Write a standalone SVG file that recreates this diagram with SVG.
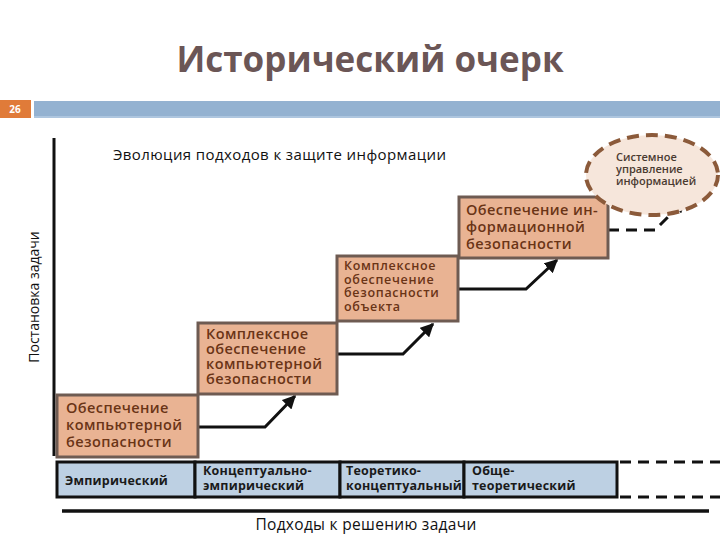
<svg xmlns="http://www.w3.org/2000/svg" width="720" height="540" viewBox="0 0 720 540">
<style>
.box{fill:#e9b393;stroke:#6e5b52;stroke-width:3}
.bt{font-family:"Open Sans","Noto Sans",sans-serif;font-size:14.5px;font-weight:600;fill:#6a3416;letter-spacing:0.4px}
.bs{font-size:12.5px;letter-spacing:0.7px}
.cell{fill:#bdd0e3;stroke:#111;stroke-width:3}
.ct{font-family:"Open Sans","Noto Sans",sans-serif;font-size:12.5px;font-weight:bold;fill:#1a1a1a;letter-spacing:0.2px}
.ln{stroke:#111;stroke-width:3;fill:none}
.dl{stroke:#111;stroke-width:3;fill:none;stroke-dasharray:11 7}
.lab{font-family:"Open Sans","Noto Sans",sans-serif;fill:#111}
.et{font-family:"Open Sans","Noto Sans",sans-serif;font-size:11px;font-weight:600;fill:#4a3a30}
</style>
<defs>
<marker id="ah" viewBox="0 0 10 10" refX="9" refY="5" markerWidth="4.5" markerHeight="4.5" orient="auto" markerUnits="strokeWidth">
<path d="M0,0 L10,5 L0,10 z" fill="#111"/>
</marker>
</defs>
<rect width="720" height="540" fill="#fff"/>
<text x="370" y="72" text-anchor="middle" font-family="'Open Sans','Noto Sans',sans-serif" font-size="35" font-weight="bold" fill="#6b5656">Исторический очерк</text>
<rect x="0" y="100" width="31" height="18" fill="#e07b39"/>
<text x="15" y="113" text-anchor="middle" font-family="'Open Sans',sans-serif" font-size="10" font-weight="bold" fill="#fff">26</text>
<rect x="34" y="101" width="686" height="17" fill="#94b2d1"/>
<line x1="34" y1="117" x2="720" y2="117" stroke="#b7cde3" stroke-width="1.5"/>

<g id="axes">
<line x1="54" y1="138" x2="54" y2="456" stroke="#111" stroke-width="3"/>
<line x1="62" y1="511" x2="709" y2="511" stroke="#111" stroke-width="3.5"/>
<text class="lab" font-size="14" transform="translate(39,297) rotate(-90)" text-anchor="middle">Постановка задачи</text>
<text class="lab" x="366" y="530" font-size="15.5" text-anchor="middle" letter-spacing="0.3">Подходы к решению задачи</text>
<text class="lab" x="113" y="160" font-size="15" letter-spacing="0.4">Эволюция подходов к защите информации</text>
</g>

<g id="connectors">
<polyline class="ln" points="198,427 265,427 295,396" marker-end="url(#ah)"/>
<polyline class="ln" points="337,354 403,354 433,324" marker-end="url(#ah)"/>
<polyline class="ln" points="458,289 526,289 557,260" marker-end="url(#ah)"/>
<polyline class="dl" points="608,230 655,230 685,200" marker-end="url(#ah)"/>
</g>

<g id="n1">
<rect class="box" x="57" y="395" width="141" height="62"/>
<text class="bt" x="66" y="413">Обеспечение</text>
<text class="bt" x="66" y="430">компьютерной</text>
<text class="bt" x="66" y="447">безопасности</text>
</g>
<g id="n2">
<rect class="box" x="198" y="323" width="139" height="71"/>
<text class="bt" x="206" y="339">Комплексное</text>
<text class="bt" x="206" y="354">обеспечение</text>
<text class="bt" x="206" y="369">компьютерной</text>
<text class="bt" x="206" y="384">безопасности</text>
</g>
<g id="n3">
<rect class="box" x="337" y="256" width="121" height="65"/>
<text class="bt bs" x="344" y="270">Комплексное</text>
<text class="bt bs" x="344" y="283.5">обеспечение</text>
<text class="bt bs" x="344" y="297">безопасности</text>
<text class="bt bs" x="344" y="311">объекта</text>
</g>
<g id="n4">
<rect class="box" x="459" y="197" width="149" height="61"/>
<text class="bt" x="466" y="215">Обеспечение ин-</text>
<text class="bt" x="466" y="232">формационной</text>
<text class="bt" x="466" y="249">безопасности</text>
</g>
<g id="n5">
<ellipse cx="652" cy="175" rx="66" ry="40" fill="#f6e6db" stroke="#8b5a3a" stroke-width="4" stroke-dasharray="12 7"/>
<text class="et" x="616" y="161">Системное</text>
<text class="et" x="616" y="173">управление</text>
<text class="et" x="616" y="185">информацией</text>
</g>

<g id="band">
<rect class="cell" x="57" y="462" width="138" height="35"/>
<rect class="cell" x="195" y="462" width="145" height="35"/>
<rect class="cell" x="340" y="462" width="124" height="35"/>
<rect class="cell" x="464" y="462" width="153" height="35"/>
<line class="dl" x1="620" y1="462" x2="720" y2="462"/>
<line class="dl" x1="620" y1="497" x2="720" y2="497"/>
<text class="ct" x="65" y="485">Эмпирический</text>
<text class="ct" x="203" y="475">Концептуально-</text>
<text class="ct" x="203" y="490">эмпирический</text>
<text class="ct" x="346" y="475">Теоретико-</text>
<text class="ct" x="346" y="490">концептуальный</text>
<text class="ct" x="472" y="475">Обще-</text>
<text class="ct" x="472" y="490">теоретический</text>
</g>
</svg>
